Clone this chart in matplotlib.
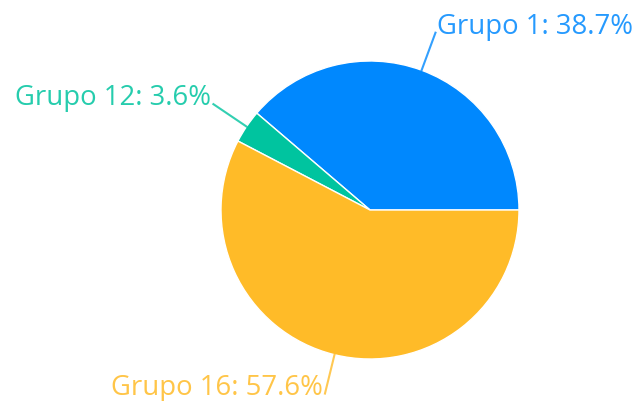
import numpy as np
import matplotlib
matplotlib.use("Agg")
import matplotlib.pyplot as plt

categories = ["Grupo 1", "Grupo 12", "Grupo 16"]
values = [38.7, 3.6, 57.6]
colors = ["#0088FE", "#00C49F", "#FFBB28"]

W, H = 641, 401
fig = plt.figure(figsize=(W / 100, H / 100), dpi=100)
ax = fig.add_axes([0, 0, 1, 1])

cx, cy, r = 370, H - 210, 149
wedges, _ = ax.pie(values, colors=colors, startangle=0, counterclock=True,
                   center=(cx, cy), radius=r, frame=True,
                   wedgeprops=dict(edgecolor="white", linewidth=1))
ax.set_xlim(0, W)
ax.set_ylim(0, H)
ax.set_aspect("equal")
ax.axis("off")

for w, cat, v, c in zip(wedges, categories, values, colors):
    mid = np.deg2rad((w.theta1 + w.theta2) / 2)
    x0, y0 = cx + r * np.cos(mid), cy + r * np.sin(mid)
    x1, y1 = cx + (r + 40) * np.cos(mid), cy + (r + 40) * np.sin(mid)
    ax.plot([x0, x1], [y0, y1], color=c, lw=1.5, alpha=0.8)
    ha = "left" if np.cos(mid) >= 0 else "right"
    dx = 2 if ha == "left" else -2
    ax.text(x1 + dx, y1 - 1, f"{cat}: {v:.1f}%", color=c,
            ha=ha, va="baseline", fontsize=19.8, family="Open Sans", alpha=0.85)

fig.savefig("out.png", dpi=100)
